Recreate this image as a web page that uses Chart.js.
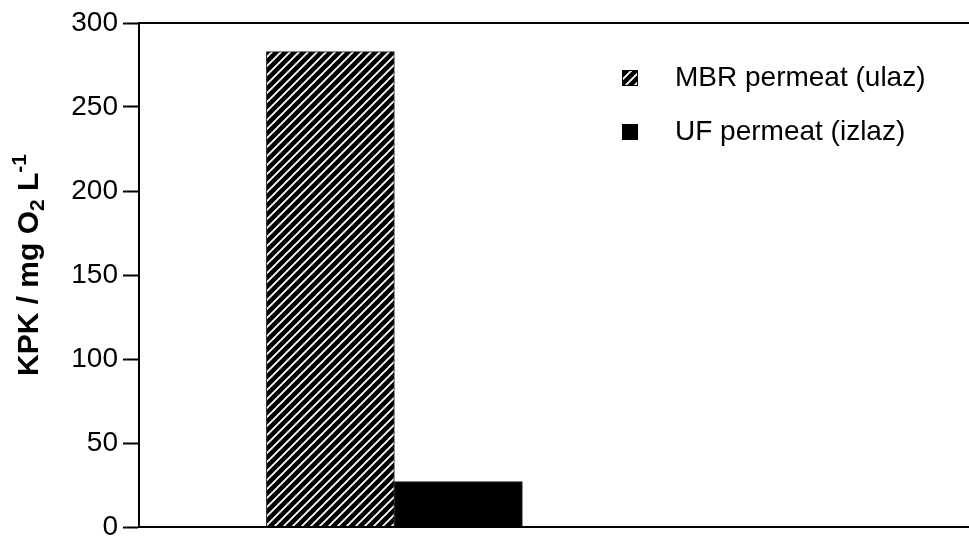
<!DOCTYPE html>
<html>
<head>
<meta charset="utf-8">
<script src="https://cdn.jsdelivr.net/npm/chart.js@4"></script>
<style>
    html, body { margin: 0; padding: 0; background: #fff; }
    #chart { display: block; }
</style>
</head>
<body>
<canvas id="chart" width="969" height="541"></canvas>
<script>
// Data
const seriesLabels = ['MBR permeat (ulaz)', 'UF permeat (izlaz)'];
const samplePos = [1];          // position of the single sample on the x axis
const xRange = [0, 3.25];
const mbrValues = [283];
const ufValues = [27];
const yTicks = [0, 50, 100, 150, 200, 250, 300];

const FONT = '"Liberation Sans", Arial, sans-serif';

// Diagonal hatch for the MBR bar
function makeHatch() {
    const n = 9;
    const c = document.createElement('canvas');
    c.width = n;
    c.height = n;
    const g = c.getContext('2d');
    g.fillStyle = '#000';
    g.fillRect(0, 0, n, n);
    g.strokeStyle = '#fff';
    g.lineWidth = 1.8;
    g.beginPath();
    g.moveTo(-1, n + 1); g.lineTo(n + 1, -1);
    g.moveTo(-1, 1); g.lineTo(1, -1);
    g.moveTo(n - 1, n + 1); g.lineTo(n + 1, n - 1);
    g.stroke();
    return g.createPattern(c, 'repeat');
}

const hatch = makeHatch();

// Frame lines + y title with sub/superscript + in-plot legend
const decorations = {
    id: 'decorations',
    afterDraw(chart) {
        const ctx = chart.ctx;
        const area = chart.chartArea;

        ctx.save();
        ctx.strokeStyle = '#000';
        ctx.lineWidth = 2;
        ctx.beginPath();
        ctx.moveTo(area.left, area.top);
        ctx.lineTo(chart.width, area.top);
        ctx.moveTo(area.left - 1, area.bottom);
        ctx.lineTo(chart.width, area.bottom);
        ctx.stroke();
        ctx.restore();

        // y axis title: KPK / mg O2 L-1
        const parts = [
            { t: 'KPK / mg O', size: 30, dy: 0 },
            { t: '2', size: 21, dy: 8 },
            { t: ' L', size: 30, dy: 0 },
            { t: '-1', size: 21, dy: -10 }
        ];
        ctx.save();
        ctx.fillStyle = '#000';
        ctx.textBaseline = 'middle';
        ctx.textAlign = 'left';
        let total = 0;
        parts.forEach(p => {
            ctx.font = `bold ${p.size}px ${FONT}`;
            p.w = ctx.measureText(p.t).width;
            total += p.w;
        });
        ctx.translate(30, 265);
        ctx.rotate(-Math.PI / 2);
        let x = -total / 2;
        parts.forEach(p => {
            ctx.font = `bold ${p.size}px ${FONT}`;
            ctx.fillText(p.t, x, p.dy);
            x += p.w;
        });
        ctx.restore();

        // legend
        ctx.save();
        ctx.font = `28px ${FONT}`;
        ctx.textBaseline = 'middle';
        ctx.textAlign = 'left';
        chart.data.datasets.forEach((ds, i) => {
            const y = 78 + i * 54;
            ctx.fillStyle = ds.backgroundColor;
            ctx.fillRect(622, y - 8, 16, 16);
            ctx.strokeStyle = '#000';
            ctx.lineWidth = 1;
            ctx.strokeRect(622.5, y - 7.5, 15, 15);
            ctx.fillStyle = '#000';
            ctx.fillText(ds.label, 675, y);
        });
        ctx.restore();
    }
};

new Chart(document.getElementById('chart'), {
    type: 'bar',
    data: {
        datasets: [
            {
                label: seriesLabels[0],
                data: samplePos.map((x, i) => ({ x: x, y: mbrValues[i] })),
                backgroundColor: hatch,
                borderColor: '#222',
                borderWidth: 1,
                barThickness: 128
            },
            {
                label: seriesLabels[1],
                data: samplePos.map((x, i) => ({ x: x, y: ufValues[i] })),
                backgroundColor: '#000',
                borderColor: '#222',
                borderWidth: 1,
                barThickness: 128
            }
        ]
    },
    options: {
        responsive: false,
        animation: false,
        events: [],
        layout: { padding: { top: 23, right: 0, bottom: 14, left: 0 } },
        plugins: {
            legend: { display: false },
            tooltip: { enabled: false }
        },
        scales: {
            x: {
                type: 'linear',
                display: false,
                offset: false,
                min: xRange[0],
                max: xRange[1]
            },
            y: {
                min: yTicks[0],
                max: yTicks[yTicks.length - 1],
                afterBuildTicks: scale => {
                    scale.ticks = yTicks.map(v => ({ value: v }));
                },
                afterFit: scale => {
                    scale.width = 139;
                    scale.paddingTop = 0;
                    scale.paddingBottom = 0;
                },
                grid: {
                    drawOnChartArea: false,
                    drawTicks: true,
                    tickLength: 16,
                    tickColor: '#000',
                    tickWidth: 2
                },
                border: { display: true, color: '#000', width: 2 },
                ticks: {
                    color: '#000',
                    padding: 5,
                    font: { family: FONT, size: 28 }
                }
            }
        }
    },
    plugins: [decorations]
});
</script>
</body>
</html>
